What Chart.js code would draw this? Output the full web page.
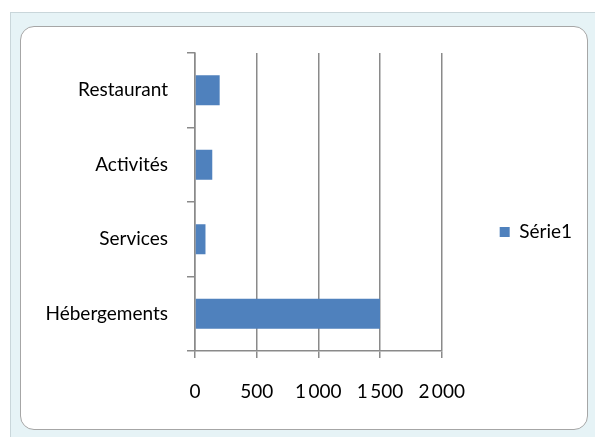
<!DOCTYPE html>
<html>
<head>
<meta charset="utf-8">
<script src="https://cdn.jsdelivr.net/npm/chart.js@4"></script>
<style>
  html, body { margin: 0; padding: 0; width: 595px; height: 437px; overflow: hidden; background: #ffffff; }
  .sheet { position: absolute; left: 10px; top: 12px; width: 585px; height: 425px; background: #e6f3f6; border-top: 1px solid #c9d6da; border-left: 1px solid #c9d6da; }
  .frame { position: absolute; left: 20px; top: 26px; width: 566px; height: 402px; background: #fff; border: 1.5px solid #a6a6a6; border-radius: 14px; }
  .dots { position: absolute; font: 10px sans-serif; color: #7a7a7a; letter-spacing: 0px; }
  canvas { position: absolute; left: 0; top: 0; }
</style>
</head>
<body>
<div class="sheet"></div>
<div class="frame"></div>
<canvas id="c" width="595" height="437"></canvas>
<script>
const categories = ['Restaurant', 'Activités', 'Services', 'Hébergements'];
const serieName = 'Série1';
const serieValues = [200, 140, 85, 1500];
const xTicks = [0, 500, 1000, 1500, 2000];

const gridColor = '#8a8a8a';
const font = { family: 'Lato, "Open Sans", sans-serif', size: 19 };

new Chart(document.getElementById('c'), {
  type: 'bar',
  data: {
    labels: categories,
    datasets: [{
      label: serieName,
      data: serieValues,
      backgroundColor: '#4F81BD',
      borderWidth: 0,
      categoryPercentage: 1,
      barPercentage: 0.4
    }]
  },
  options: {
    indexAxis: 'y',
    responsive: false,
    animation: false,
    devicePixelRatio: 1,
    layout: { padding: { left: 20, top: 53, right: 13, bottom: 26 } },
    plugins: {
      legend: {
        position: 'right',
        labels: { boxWidth: 10, boxHeight: 10, padding: 10, color: '#000', font: font }
      },
      tooltip: { enabled: false }
    },
    scales: {
      x: {
        type: 'linear',
        position: 'bottom',
        min: 0, max: 2000,
        afterBuildTicks: s => { s.ticks = xTicks.map(v => ({ value: v })); },
        afterFit: s => { s.height = 60; },
        ticks: {
          color: '#000', font: font, padding: 22,
          callback: v => String(v).replace(/\B(?=(\d{3})+(?!\d))/g, '\u2009')
        },
        grid: { color: gridColor, lineWidth: 1.5, tickLength: 7, drawTicks: true },
        border: { color: gridColor, width: 1.5 }
      },
      y: {
        type: 'category',
        position: 'left',
        afterFit: s => { s.width = 175; },
        ticks: { color: '#000', font: font, padding: 19 },
        grid: { drawOnChartArea: false, offset: true, color: gridColor, lineWidth: 1.5, tickLength: 8 },
        border: { color: gridColor, width: 1.5 }
      },
      yR: {
        type: 'category',
        position: 'right',
        afterFit: s => { s.width = 48; },
        ticks: { display: false },
        grid: { display: false },
        border: { display: false }
      }
    }
  }
});
</script>
</body>
</html>
